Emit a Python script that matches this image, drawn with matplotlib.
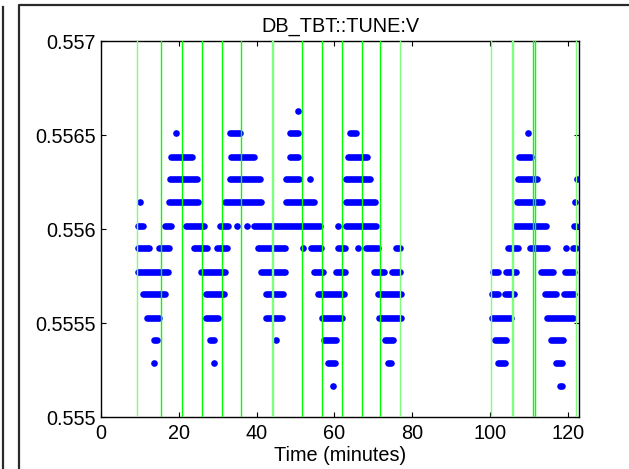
import matplotlib
matplotlib.use("Agg")
import matplotlib.pyplot as plt
from matplotlib.lines import Line2D

# ---------------- data ----------------
title = "DB_TBT::TUNE:V"
xlabel = "Time (minutes)"
x_ticks = [0, 20, 40, 60, 80, 100, 120]
y_ticks = [0.555, 0.5555, 0.556, 0.5565, 0.557]
y_ticklabels = ["0.555", "0.5555", "0.556", "0.5565", "0.557"]

# quantised tune levels (top to bottom)
tune_levels = [0.556628, 0.556509, 0.556383, 0.556264, 0.556144, 0.556018,
               0.555897, 0.555771, 0.555653, 0.555527, 0.555408, 0.555287,
               0.555163]

# runs of consecutive samples at each level: (first time, last time) in minutes
runs_L5 = [(50.7, 50.7)]
runs_L4 = [(19.2, 19.2), (33.2, 35.7), (48.6, 50.6), (63.9, 65.6), (109.9, 109.9)]
runs_L3 = [(18.1, 23.4), (33.3, 39.4), (48.5, 50.7), (63.6, 68.4), (107.4, 110.6)]
runs_L2 = [(17.7, 24.7), (33.1, 41.0), (47.5, 51.0), (53.7, 53.7), (63.1, 69.2),
           (107.2, 112.1), (122.3, 122.3)]
runs_L1 = [(9.9, 9.9), (17.5, 24.9), (31.8, 41.1), (47.6, 54.7), (63.0, 70.5),
           (107.0, 113.5), (121.9, 121.9)]
runs_L0 = [(9.6, 10.8), (16.4, 18.1), (21.9, 26.6), (30.5, 32.6), (34.9, 34.9),
           (37.5, 37.5), (39.3, 56.2), (61.0, 61.0), (62.9, 70.8), (106.4, 114.5),
           (121.5, 122.2)]
runs_Lm1 = [(9.5, 12.3), (15.0, 17.4), (23.8, 27.3), (29.9, 32.4), (40.4, 47.4),
            (52.0, 52.0), (54.1, 56.5), (60.9, 62.8), (66.1, 66.1), (68.2, 71.1),
            (75.8, 76.8), (104.7, 107.1), (110.2, 114.7), (119.6, 119.6),
            (121.4, 122.1)]
runs_Lm2 = [(9.5, 17.1), (25.8, 32.0), (41.2, 47.3), (54.8, 57.2), (60.4, 62.8),
            (70.2, 72.8), (74.7, 77.0), (100.8, 102.0), (104.2, 106.6),
            (113.2, 116.2), (119.2, 121.7)]
runs_Lm3 = [(10.8, 16.5), (26.9, 31.5), (42.3, 46.7), (55.8, 62.5), (71.1, 77.1),
            (100.5, 102.0), (103.8, 106.3), (114.1, 117.0), (119.1, 121.5)]
runs_Lm4 = [(11.9, 15.0), (27.0, 30.0), (42.4, 46.5), (56.7, 61.9), (71.6, 77.1),
            (100.5, 105.5), (114.8, 121.4)]
runs_Lm5 = [(13.6, 14.4), (27.9, 29.1), (44.9, 44.9), (57.3, 60.5), (72.9, 75.1),
            (101.4, 104.1), (115.8, 118.8)]
runs_Lm6 = [(13.5, 13.5), (29.1, 29.1), (58.4, 60.2), (73.8, 74.6), (102.0, 103.9),
            (117.1, 118.5)]
runs_Lm7 = [(59.6, 59.6), (117.9, 118.6)]

level_runs = [runs_L5, runs_L4, runs_L3, runs_L2, runs_L1, runs_L0, runs_Lm1,
              runs_Lm2, runs_Lm3, runs_Lm4, runs_Lm5, runs_Lm6, runs_Lm7]

# event markers (vertical green lines), minutes
event_times = [9.2, 15.4, 20.75, 25.97, 31.1, 35.9, 43.85, 44.3, 51.6, 56.95,
               61.95, 67.05, 71.85, 76.9, 100.3, 105.55, 106.05, 111.0, 111.55, 122.1]
# style: lighter-looking lines
event_light = [True, False, False, False, False, False, True, True, False, False,
               False, False, False, True, True, True, True, False, False, True]

# ---------------- drawing ----------------
plt.rcParams['font.family'] = ['Liberation Sans', 'DejaVu Sans']
W, H = 629, 469
fig = plt.figure(figsize=(W / 100, H / 100), dpi=100)
ax = fig.add_axes([101 / W, 1 - 417 / H, 478 / W, 376 / H])

dot_pt = 4.8
blue = (0, 0, 1)
for lvl, runs in zip(tune_levels, level_runs):
    for (t0, t1) in runs:
        if t1 > t0:
            ax.plot([t0, t1], [lvl, lvl], '-', color=blue, lw=dot_pt,
                    solid_capstyle='round', zorder=2)
        else:
            ax.plot([t0], [lvl], 'o', color=blue, ms=dot_pt, mew=0, zorder=2)

for t, light in zip(event_times, event_light):
    ax.axvline(t, color='#7dff7d' if light else '#00ff00',
               lw=1.0, zorder=3)

ax.set_xlim(0, 122.9)
ax.set_ylim(0.555, 0.557)
ax.set_xticks(x_ticks)
ax.set_yticks(y_ticks)
ax.set_yticklabels(y_ticklabels)
fs = 14.3
ax.tick_params(direction='in', top=True, right=True, length=3.5, width=0.8,
               labelsize=fs, pad=5)
ax.tick_params(axis='y', pad=4)
for s in ax.spines.values():
    s.set_linewidth(1.0)
    s.set_color('black')
ax.set_title(title, fontsize=fs, pad=7)
ax.set_xlabel(xlabel, fontsize=fs, labelpad=2)

# surrounding window frame lines
frame_col = '#2a2a2a'
fig.add_artist(Line2D([3.5 / W, 3.5 / W], [0, 1 - 7 / H], transform=fig.transFigure,
                      color=frame_col, lw=1.6))
fig.add_artist(Line2D([18.5 / W, 18.5 / W, 1], [0, 1 - 5.5 / H, 1 - 5.5 / H],
                      transform=fig.transFigure, color=frame_col, lw=1.6))

fig.savefig('out.png', dpi=100)
